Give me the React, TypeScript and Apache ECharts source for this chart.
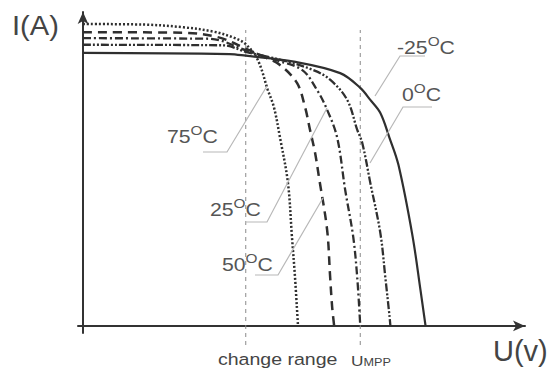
import React, { useEffect, useRef } from "react";
import * as echarts from "echarts";

// I-U characteristic curves (U in volts, I in amperes)
const u75 = [0, 3.0, 5.0, 6.5, 7.5, 8.1, 8.7, 9.2, 9.5, 9.8, 10.2, 10.4, 10.55, 10.7];
const i75 = [5.53, 5.52, 5.47, 5.39, 5.28, 5.16, 4.87, 4.32, 4.01, 3.46, 2.62, 1.63, 0.9, 0];

const u50 = [0, 5.0, 6.8, 8.1, 9.0, 9.8, 10.65, 11.05, 11.3, 11.55, 11.75, 12.15, 12.3, 12.4, 12.5];
const i50 = [5.38, 5.37, 5.28, 5.08, 4.93, 4.78, 4.45, 4.01, 3.59, 3.17, 2.71, 1.76, 0.9, 0.35, 0];

const u25 = [0, 6.3, 8.1, 9.5, 10.9, 11.65, 12.15, 12.65, 13.05, 13.45, 13.65, 13.8];
const i25 = [5.27, 5.26, 5.05, 4.88, 4.69, 4.32, 3.96, 3.45, 2.49, 1.63, 0.88, 0];

const u0 = [0, 7.0, 8.1, 10.0, 11.5, 12.3, 13.15, 13.65, 13.9, 14.3, 14.8, 15.05, 15.25, 15.3];
const i0 = [5.15, 5.14, 5.02, 4.86, 4.68, 4.51, 4.14, 3.59, 3.35, 2.62, 1.7, 0.88, 0.2, 0];

const uM25 = [0, 7.3, 8.1, 10.5, 12.8, 13.8, 14.3, 14.8, 15.25, 15.7, 16.4, 16.8, 17.05];
const iM25 = [5.0, 4.98, 4.95, 4.84, 4.63, 4.36, 4.14, 3.9, 3.45, 2.95, 1.65, 0.65, 0];

const changeRangeU = 8.1;
const mppU = 13.8;
const refLineI = [-0.35, 5.42];

const tempLabels = ["-25", "0", "25", "50", "75"];

const zip = (u: number[], i: number[]) => u.map((v, k) => [v, i[k]]);

export default function App() {
  const ref = useRef<HTMLDivElement>(null);
  useEffect(() => {
    if (!ref.current) return;
    const chart = echarts.init(ref.current, null, { renderer: "svg" });
    const curveColor = "#2f2f2f";
    const curve = (name: string, data: number[][], type: any, width: number) => ({
      name,
      type: "line",
      data,
      showSymbol: false,
      smooth: 0.35,
      lineStyle: { color: curveColor, width, type },
      z: 3,
    });
    const vline = (u: number) => ({
      type: "line",
      data: refLineI.map((i) => [u, i]),
      showSymbol: false,
      clip: false,
      lineStyle: { color: "#8a8a8a", width: 1, type: [4, 4] },
      z: 1,
    });
    const tempText = (t: string, x: number, y: number) => ({
      type: "text",
      x,
      y,
      scaleX: 1.18,
      style: {
        text: `{n|${t}}{s|O}{n|C}`,
        fill: "#555",
        align: "left",
        verticalAlign: "top",
        rich: {
          n: { fontSize: 18, fontFamily: "Liberation Sans", fill: "#555", verticalAlign: "bottom", lineHeight: 22 },
          s: { fontSize: 13, fontFamily: "Liberation Sans", fill: "#555", verticalAlign: "top", lineHeight: 14 },
        },
      },
      z: 10,
    });
    const leader = (pts: number[][]) => ({
      type: "polyline",
      shape: { points: pts },
      style: { stroke: "#b8b8b8", lineWidth: 1.2, fill: null },
      z: 9,
    });
    chart.setOption({
      animation: false,
      backgroundColor: "#fff",
      grid: { left: 78, right: 24, top: 12, bottom: 37 },
      xAxis: {
        type: "value",
        min: -0.25,
        max: 22,
        axisLine: {
          onZero: true,
          symbol: ["none", "arrow"],
          symbolSize: [8, 12],
          lineStyle: { color: "#333", width: 2 },
        },
        axisTick: { show: false },
        axisLabel: { show: false },
        splitLine: { show: false },
      },
      yAxis: {
        type: "value",
        min: -0.13,
        max: 5.75,
        axisLine: {
          show: true,
          onZero: true,
          symbol: ["none", "arrow"],
          symbolSize: [8, 12],
          lineStyle: { color: "#333", width: 2 },
        },
        axisTick: { show: false },
        axisLabel: { show: false },
        splitLine: { show: false },
      },
      series: [
        vline(changeRangeU),
        vline(mppU),
        curve(tempLabels[4], zip(u75, i75), [2, 2], 2.5),
        curve(tempLabels[3], zip(u50, i50), [9, 6], 2.5),
        curve(tempLabels[2], zip(u25, i25), [8, 3, 2, 3], 2.3),
        curve(tempLabels[1], zip(u0, i0), [8, 2, 2, 2, 2, 2], 2.3),
        curve(tempLabels[0], zip(uM25, iM25), "solid", 2.2),
      ],
      graphic: [
        leader([[425, 56], [400, 56], [375, 96]]),
        leader([[432, 107], [403, 107], [370, 163]]),
        leader([[203, 152], [227, 152], [267, 86]]),
        leader([[245, 222], [267, 222], [327, 108]]),
        leader([[255, 275], [278, 275], [323, 198]]),
        tempText(tempLabels[0], 397, 35),
        tempText(tempLabels[1], 402, 82),
        tempText(tempLabels[4], 167, 124),
        tempText(tempLabels[2], 210, 197),
        tempText(tempLabels[3], 222, 252),
        {
          type: "text",
          x: 12,
          y: 11,
          scaleX: 1.04,
          style: { text: "I(A)", fontSize: 28, fontFamily: "Liberation Sans", fill: "#444", align: "left", verticalAlign: "top" },
        },
        {
          type: "text",
          x: 493,
          y: 336,
          style: { text: "U(v)", fontSize: 29, fontFamily: "Liberation Sans", fill: "#444", align: "left", verticalAlign: "top" },
        },
        {
          type: "text",
          x: 218,
          y: 350,
          scaleX: 1.15,
          style: { text: "change range", fontSize: 17, fontFamily: "Liberation Sans", fill: "#444", align: "left", verticalAlign: "top" },
        },
        {
          type: "text",
          x: 351,
          y: 351,
          scaleX: 1.15,
          style: {
            text: "{u|U}{m|MPP}",
            align: "left",
            verticalAlign: "top",
            rich: {
              u: { fontSize: 15, fontFamily: "Liberation Sans", fill: "#444", verticalAlign: "bottom", lineHeight: 17 },
              m: { fontSize: 11, fontFamily: "Liberation Sans", fill: "#444", verticalAlign: "bottom", lineHeight: 15 },
            },
          },
        },
      ],
    });
    return () => chart.dispose();
  }, []);
  return (
    <div
      ref={ref}
      style={{ position: "fixed", left: 0, top: 0, width: 549, height: 370, background: "#fff" }}
    />
  );
}
